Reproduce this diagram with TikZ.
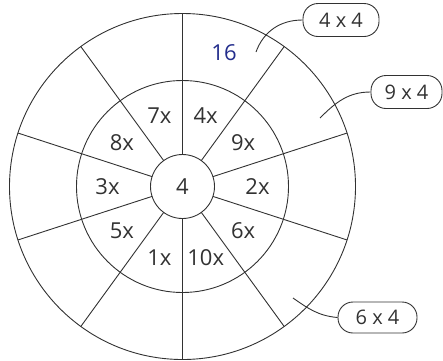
\documentclass[tikz,border=0pt]{standalone}
\usepackage{fontspec}
\setmainfont{Open Sans}
\definecolor{inkgrey}{RGB}{50,50,50}
\definecolor{answerblue}{RGB}{35,45,140}
\begin{document}
\begin{tikzpicture}[x=1pt, y=1pt,
    ring/.style={draw=inkgrey, line width=0.9pt},
    factor/.style={text=inkgrey, font=\fontsize{22}{26}\selectfont, inner sep=0pt},
    sumbox/.style={draw=inkgrey, line width=0.9pt, rounded corners=15pt,
                   text=inkgrey, font=\fontsize{20}{24}\selectfont,
                   minimum width=76pt, minimum height=33pt, inner sep=2pt},
    pointer/.style={draw=inkgrey, line width=0.9pt}
]
    \useasboundingbox (-182.5,-173.5) rectangle (260.5,186.5);

    % rings and spokes
    \draw[ring] (0,0) circle (32) (0,0) circle (106) (0,0) circle (173);
    \foreach \a in {18,54,...,342}
        \draw[ring] (\a:32) -- (\a:173);

    % factors
    \node[factor] (centre) at (0,0) {4};
    \foreach \f/\a in {7/108, 4/72, 9/36, 2/0, 6/-36, 10/-72, 1/-108, 5/-144, 3/180, 8/144}
        \node[factor] (f\f) at (\a:75) {\f x};

    \node[factor, text=answerblue] (answer) at (41.5,134) {16};

    % callouts
    \node[sumbox] (sa) at (158.5,166.5) {4 x 4};
    \node[sumbox, minimum width=71pt] (sb) at (224,94.5) {9 x 4};
    \node[sumbox, minimum width=79pt, minimum height=31pt] (sc) at (195,-131) {6 x 4};

    \coordinate (pa) at (73.5,134.5);
    \coordinate (pb) at (137.5,68.5);
    \coordinate (pc) at (110.5,-111.5);

    \draw[pointer] (sa.west) to[out=180, in=70] (pa);
    \draw[pointer] (sb.west) to[out=180, in=45] (pb);
    \draw[pointer] (sc.west) to[out=175, in=-35] (pc);
\end{tikzpicture}
\end{document}
